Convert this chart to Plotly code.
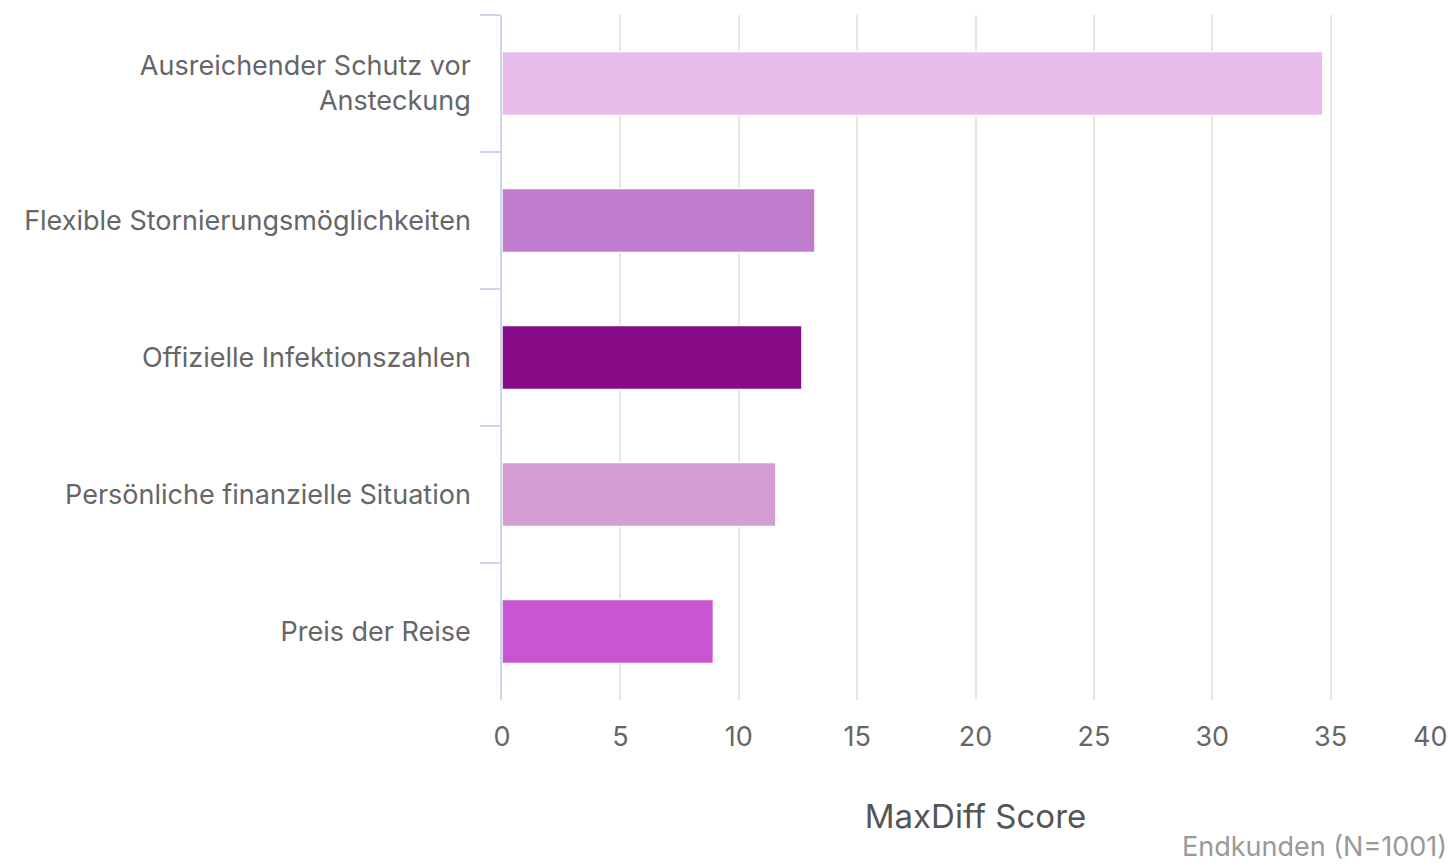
import plotly.graph_objects as go

categories = [
    "Ausreichender Schutz vor<br>Ansteckung",
    "Flexible Stornierungsmöglichkeiten",
    "Offizielle Infektionszahlen",
    "Persönliche finanzielle Situation",
    "Preis der Reise",
]
scores = [34.67, 13.22, 12.67, 11.57, 8.93]
bar_colors = ["#E8BDEB", "#C07CCD", "#870B86", "#D49ED5", "#C955D3"]
x_ticks = [0, 5, 10, 15, 20, 25, 30, 35, 40]

FONT = "Inter, Roboto, sans-serif"
TICK_SIZE = 27

fig = go.Figure(
    go.Bar(
        y=categories,
        x=scores,
        orientation="h",
        width=0.467,
        marker=dict(color=bar_colors, line=dict(color="#ffffff", width=1.5)),
        hoverinfo="x+y",
    )
)

# last x tick label drawn inside the plot edge (as in the reference)
tick_text = [str(v) for v in x_ticks[:-1]] + [""]

fig.update_layout(
    width=1451,
    height=866,
    margin=dict(l=502, r=2, t=15, b=166),
    paper_bgcolor="white",
    plot_bgcolor="white",
    showlegend=False,
    font=dict(family=FONT, color="#666666", size=TICK_SIZE),
    xaxis=dict(
        range=[0, 40],
        tickvals=x_ticks,
        ticktext=tick_text,
        showgrid=True,
        gridcolor="#e6e6e6",
        gridwidth=1.5,
        zeroline=False,
        showline=False,
        ticks="",
        ticklabelstandoff=18,
        tickfont=dict(size=TICK_SIZE, color="#666666"),
        title=dict(text="MaxDiff Score", font=dict(size=33, color="#555555"), standoff=52),
        fixedrange=True,
    ),
    yaxis=dict(
        categoryorder="array",
        categoryarray=categories,
        range=[4.5, -0.5],
        showline=True,
        linecolor="#ccd6eb",
        linewidth=1.5,
        ticks="outside",
        tickson="boundaries",
        ticklen=20,
        tickwidth=1.5,
        tickcolor="#ccd6eb",
        ticklabelstandoff=24,
        showgrid=False,
        zeroline=False,
        tickfont=dict(size=TICK_SIZE, color="#666666"),
        fixedrange=True,
    ),
    annotations=[
        dict(
            text=str(x_ticks[-1]),
            xref="x",
            yref="paper",
            x=x_ticks[-1],
            y=0,
            xanchor="right",
            yanchor="middle",
            yshift=-36,
            showarrow=False,
            font=dict(family=FONT, size=TICK_SIZE, color="#666666"),
        ),
        dict(
            text="Endkunden (N=1001)",
            xref="paper",
            yref="paper",
            x=1.0,
            y=0,
            xanchor="right",
            yanchor="middle",
            yshift=-146,
            showarrow=False,
            font=dict(family=FONT, size=27, color="#999999"),
        ),
    ],
)

fig.write_html(
    "out.html",
    config={"displayModeBar": False},
    post_script="document.body.style.margin='0';document.body.style.overflow='hidden';",
)
